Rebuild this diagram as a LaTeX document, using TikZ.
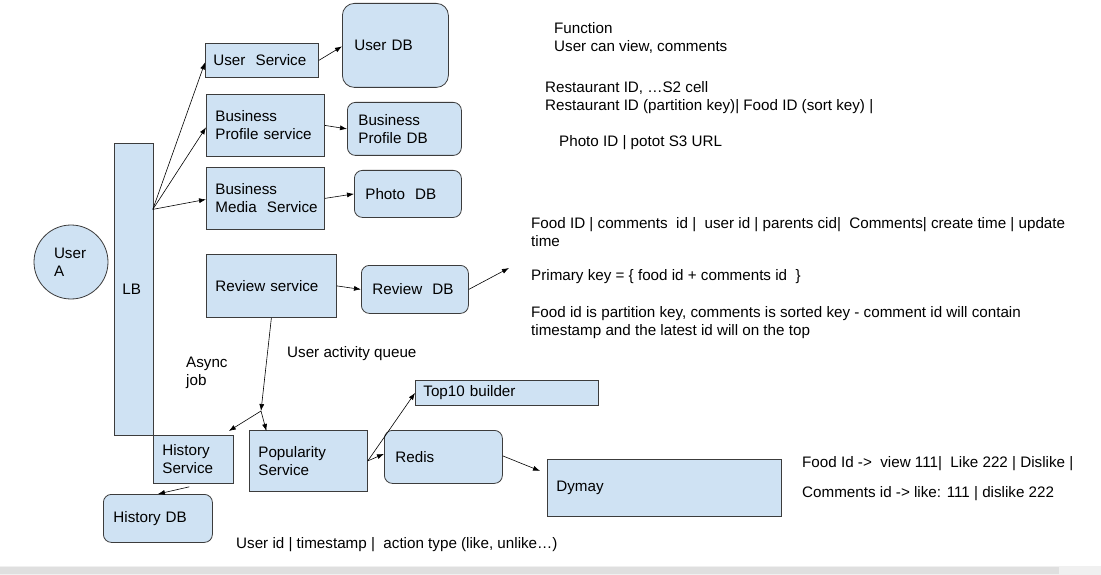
\documentclass[tikz,border=0pt]{standalone}
\usepackage{fontspec}
\setmainfont{Liberation Sans}
\usetikzlibrary{arrows.meta}
\definecolor{boxfill}{HTML}{CFE2F3}
\definecolor{boxline}{HTML}{3C3C3C}
\hyphenpenalty=10000
\exhyphenpenalty=10000
\begin{document}
\begin{tikzpicture}[x=1pt,y=-1pt,
  every node/.style={font=\fontsize{15.2}{18}\selectfont},
  box/.style={draw=boxline,fill=boxfill,line width=0.8pt,anchor=north west,align=left,inner ysep=0pt},
  rbox/.style={box,rounded corners=8pt},
  txt/.style={anchor=west,align=left,inner sep=0pt},
  conn/.style={draw=black,line width=0.6pt,-{Latex[length=7pt,width=5pt]}}]
\useasboundingbox (0,0) rectangle (1101,575);
\fill[white] (0,0) rectangle (1101,575);
\fill[gray!12] (0,566) rectangle (1101,575);
\fill[gray!25] (0,567) rectangle (1059,574);

% nodes
\node[draw=boxline,fill=boxfill,line width=0.8pt,circle,minimum size=74pt,text width=34pt,align=left,inner sep=0pt] (usera) at (71,262) {User\\A};
\node[box,minimum height=292pt,inner xsep=8pt,text width=23pt] (lb) at (114,143) {LB};
\node[box,minimum height=34pt,inner xsep=8pt,text width=97pt] (us) at (205,43) {User~~Service};
\node[rbox,rounded corners=12pt,minimum height=84pt,inner xsep=12pt,text width=82pt] (udb) at (342,3) {User DB};
\node[box,minimum height=62pt,inner xsep=9pt,text width=100pt] (bps) at (206,94) {Business\\Profile~service};
\node[rbox,minimum height=53pt,inner xsep=11pt,text width=92pt] (bpdb) at (347,102) {Business\\Profile DB};
\node[box,minimum height=62pt,inner xsep=9pt,text width=100pt] (bms) at (206,167) {Business\\Media~~Service};
\node[rbox,minimum height=47pt,inner xsep=11pt,text width=85pt] (pdb) at (354,170) {Photo~~DB};
\node[box,minimum height=63pt,inner xsep=9pt,text width=112pt] (rs) at (206,254) {Review service};
\node[rbox,minimum height=48pt,inner xsep=11pt,text width=85pt] (rdb) at (361,265) {Review~~DB};
\node[box,minimum height=25pt,inner xsep=8pt,text width=167pt] (top) at (415,380) {Top10 builder};
\node[box,minimum height=48pt,inner xsep=9pt,text width=62pt] (hs) at (153,435) {History\\Service};
\node[box,minimum height=61pt,inner xsep=9pt,text width=100pt] (pop) at (249,430) {Popularity\\Service};
\node[rbox,minimum height=53pt,inner xsep=11pt,text width=96pt] (redis) at (384,430) {Redis};
\node[box,minimum height=57pt,inner xsep=9pt,text width=216pt] (dy) at (547,459) {Dymay};
\node[rbox,minimum height=48pt,inner xsep=10pt,text width=89pt] (hdb) at (103,494) {History DB};

% texts
\node[txt] (t1) at (554,38) {Function\\User can view, comments};
\node[txt] (t2) at (545,98) {Restaurant ID, …S2 cell\\Restaurant ID (partition key)| Food ID (sort key) |};
\node[txt] (t3) at (559,143) {Photo ID | potot S3 URL};
\node[txt] (t4) at (531,232) {Food ID | comments\ \ id |\ \ user id | parents cid|\ \ Comments| create time | update\\time};
\node[txt] (t5) at (531,277) {Primary key = \{ food id + comments id\ \ \}};
\node[txt] (t6) at (531,323) {Food id is partition key, comments is sorted key - comment id will contain\\timestamp and the latest id will on the top};
\node[txt] (t7) at (802,464) {Food Id ->\ \ view 111|\ \ Like 222 | Dislike |};
\node[txt] (t8) at (802,494) {Comments id -> like: 111 | dislike 222};
\node[txt] (t9) at (236,545) {User id | timestamp |\ \ action type (like, unlike…)};
\node[txt] (t10) at (186,373) {Async\\job};
\node[txt] (t11) at (287,354) {User activity queue};

% connectors
\coordinate (lbout) at ([xshift=-1pt,yshift=80pt]lb.east);
\coordinate (j) at (261,411);
\coordinate (rdbend) at (509,268);
\draw[conn] (lbout) -- ([yshift=-2pt]us.west);
\draw[conn] (lbout) -- ([yshift=-2pt]bps.west);
\draw[conn] (lbout) -- ([yshift=-1pt]bms.west);
\draw[conn] (us.east) -- ([yshift=-1pt]udb.west);
\draw[conn] (bps.east) -- (bpdb.west);
\draw[conn] (bms.east) -- (pdb.west);
\draw[conn] (rs.east) -- (rdb.west);
\draw[conn] (rdb.east) -- (rdbend);
\draw[conn] (rs.south) -- (j);
\draw[conn] (j) -- ([xshift=-5pt,yshift=4pt]hs.north east);
\draw[conn] (j) -- ([xshift=-42pt,yshift=-1pt]pop.north);
\draw[conn] (pop.east) -- (top.west);
\draw[conn] (pop.east) -- ([yshift=3pt]redis.west);
\draw[conn] ([yshift=1pt]redis.east) -- ([xshift=-7pt,yshift=17pt]dy.west);
\draw[conn] ([xshift=-4pt,yshift=-3pt]hs.south) -- (hdb.north);
\end{tikzpicture}
\end{document}
